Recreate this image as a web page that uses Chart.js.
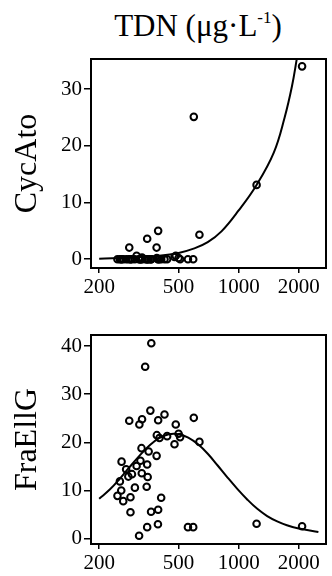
<!DOCTYPE html>
<html>
<head>
<meta charset="utf-8">
<script src="https://cdn.jsdelivr.net/npm/chart.js@4.4.1/dist/chart.umd.min.js"></script>
<style>
  html, body { margin: 0; padding: 0; background: #fff; }
  body { width: 332px; height: 576px; position: relative; overflow: hidden; font-family: "Liberation Serif", "Times New Roman", serif; }
  #title { position: absolute; left: 198px; top: 8px; transform: translateX(-50%); white-space: nowrap; font-size: 31px; line-height: 36px; color: #000; }
  #title sup { font-size: 17px; vertical-align: 13px; line-height: 0; }
  .panel { position: absolute; left: 0; width: 332px; height: 250px; }
</style>
</head>
<body>
<div id="title">TDN (μg·L<sup>-1</sup>)</div>
<div class="panel" style="top:50px"><canvas id="cycChart"></canvas></div>
<div class="panel" style="top:326px"><canvas id="fraChart"></canvas></div>
<script>
// samples: TDN (µg/L) and the two taxa
const tdn = [365, 340, 361, 425, 283, 328, 318, 395, 596, 484,
             389, 401, 438, 500, 509, 477, 636, 326, 354, 388,
             259, 273, 308, 322, 348, 280, 292, 327, 350, 254,
             302, 346, 258, 247, 264, 287, 409, 287, 364, 395,
             348, 394, 317, 557, 592, 1230, 2079];
const cycAto = [0, 0, 0, 0, 2.05, 0.3, 0, 5.0, 25.1, 0.6,
                0.2, 0, 0, 0.2, 0, 0.4, 4.3, 0, 0, 2.05,
                0, 0, 0.6, 0, 0, 0, 0, 0, 0, 0,
                0, 0, 0, 0, 0, 0, 0, 0, 0, 0,
                3.6, 0, 0, 0, 0, 13.1, 34.0];
const fraEllG = [40.6, 35.7, 26.6, 25.8, 24.5, 24.8, 23.7, 24.6, 25.1, 23.7,
                 21.5, 20.9, 21.3, 21.8, 21.1, 19.6, 20.1, 18.8, 18.1, 17.2,
                 16.0, 14.4, 15.1, 16.2, 15.4, 12.9, 13.4, 13.6, 12.8, 11.9,
                 10.6, 10.8, 10.0, 8.9, 7.8, 8.6, 8.5, 5.5, 5.6, 6.0,
                 2.4, 3.0, 0.6, 2.4, 2.4, 3.1, 2.6];

// fitted curves
const cycFitX = [200, 300, 400, 500, 600, 700, 820, 1000, 1230, 1500, 1700, 1850, 1960];
const cycFitY = [0.1, 0.3, 0.6, 1.1, 1.9, 3.0, 4.9, 8.6, 13.1, 18.8, 25.0, 30.5, 35.5];
const fraFitX = [200, 226, 253, 283, 318, 356, 399, 447, 500, 559, 626, 702, 785, 880, 987, 1107, 1240, 1390, 1560, 1745, 2000, 2510];
const fraFitY = [8.3, 10.2, 12.4, 14.8, 17.2, 19.3, 20.9, 21.7, 21.7, 21.0, 19.6, 17.6, 15.2, 12.7, 10.3, 8.1, 6.2, 4.7, 3.6, 2.8, 2.1, 1.4];

const xTicks = [200, 500, 1000, 2000];
const cycTicks = [0, 10, 20, 30];
const fraTicks = [0, 10, 20, 30, 40];

const serif = 'Liberation Serif';

const frame = {
    id: 'frame',
    afterDatasetsDraw(chart) {
        const { ctx, chartArea: a } = chart;
        ctx.save();
        ctx.strokeStyle = '#000';
        ctx.lineWidth = 2;
        ctx.strokeRect(a.left, a.top, a.right - a.left, a.bottom - a.top);
        ctx.restore();
    }
};

function makePanel(id, yVals, fitX, fitY, yMin, yMax, yTicks, yTitle) {
    const pts = tdn.map((x, i) => ({ x: x, y: yVals[i] }));
    const fit = fitX.map((x, i) => ({ x: x, y: fitY[i] }));
    return new Chart(document.getElementById(id), {
        type: 'scatter',
        data: {
            datasets: [{
                data: fit,
                showLine: true,
                pointRadius: 0,
                borderColor: '#000',
                borderWidth: 2,
                tension: 0.4
            }, {
                data: pts,
                pointRadius: 3.3,
                pointBorderWidth: 2,
                borderColor: '#000',
                backgroundColor: 'rgba(0,0,0,0)'
            }]
        },
        options: {
            responsive: true,
            maintainAspectRatio: false,
            animation: false,
            layout: { padding: { top: 9, right: 2, bottom: 0, left: 0 } },
            plugins: { legend: { display: false }, tooltip: { enabled: false } },
            scales: {
                x: {
                    type: 'logarithmic',
                    min: 182,
                    max: 2740,
                    border: { display: false },
                    grid: { drawOnChartArea: false, tickLength: 5, color: '#000', lineWidth: 1.5 },
                    ticks: { color: '#000', padding: 2, maxRotation: 0, font: { family: serif, size: 21 }, callback: v => String(v) },
                    afterBuildTicks: s => { s.ticks = xTicks.map(v => ({ value: v })); },
                    afterFit: s => { s.height = 32; s.paddingLeft = 0; s.paddingRight = 0; }
                },
                y: {
                    min: yMin,
                    max: yMax,
                    border: { display: false },
                    grid: { drawOnChartArea: false, tickLength: 7, color: '#000', lineWidth: 1.5 },
                    ticks: { color: '#000', padding: 2, font: { family: serif, size: 21 } },
                    afterBuildTicks: s => { s.ticks = yTicks.map(v => ({ value: v })); },
                    afterFit: s => { s.width = 91; s.paddingTop = 0; s.paddingBottom = 0; },
                    title: { display: true, text: yTitle, color: '#000', padding: { top: 8 }, font: { family: serif, size: 32 } }
                }
            }
        },
        plugins: [frame]
    });
}

makePanel('cycChart', cycAto, cycFitX, cycFitY, -1.55, 35.3, cycTicks, 'CycAto');
makePanel('fraChart', fraEllG, fraFitX, fraFitY, -1.1, 42.3, fraTicks, 'FraEllG');
</script>
</body>
</html>
